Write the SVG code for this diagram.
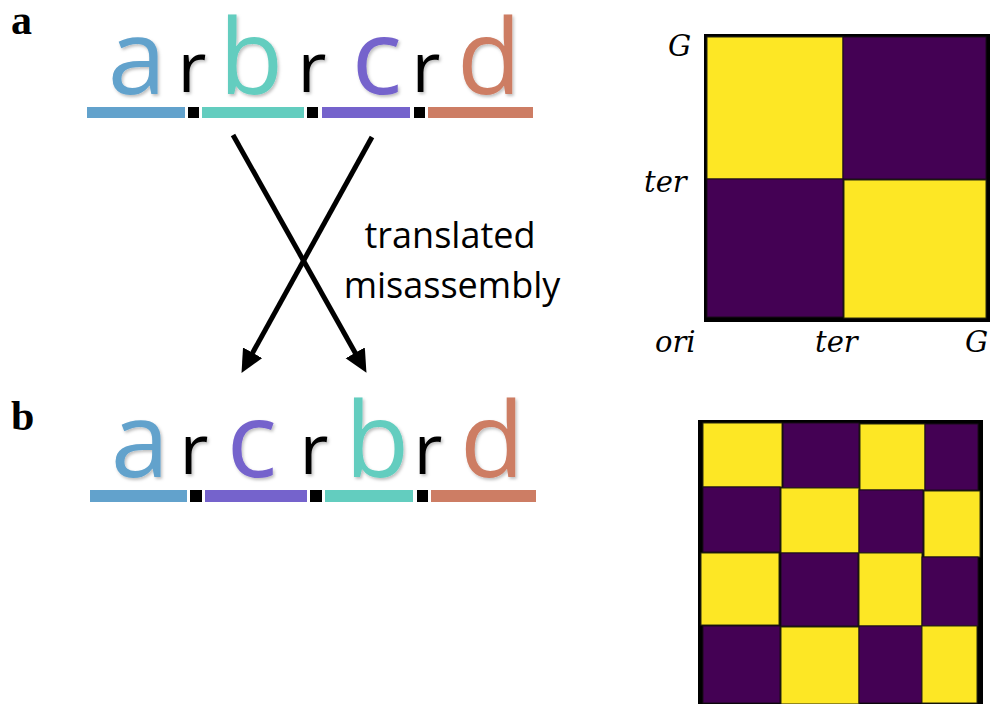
<svg xmlns="http://www.w3.org/2000/svg" width="995" height="704" viewBox="0 0 995 704">
<style>
.panel{font-family:"Liberation Serif",serif;font-weight:bold;font-size:42px;fill:#000}
.big{font-family:"Open Sans","Noto Sans",sans-serif;font-size:105px;text-anchor:middle;filter:url(#sh)}
.rr{font-family:"Open Sans","Noto Sans",sans-serif;font-size:70px;text-anchor:middle;fill:#000;filter:url(#sh)}
.lab{font-family:"Open Sans","Noto Sans",sans-serif;font-size:36px;fill:#000;text-anchor:middle}
.ax{font-family:"DejaVu Serif",serif;font-style:italic;font-size:29px;fill:#000}
.cA{fill:#62A2CC}.cB{fill:#63CDBF}.cC{fill:#7563CC}.cD{fill:#CD7D64}.k{fill:#000}
.Y{fill:#FDE725;stroke:#2a2a10;stroke-width:1}
.P{fill:#440154;stroke:#1a0a1a;stroke-width:1}
.arrow{stroke:#000;stroke-width:5;fill:none}
</style>
<defs>
<filter id="sh" x="-20%" y="-20%" width="150%" height="150%">
<feDropShadow dx="1.5" dy="2" stdDeviation="1.5" flood-color="#000" flood-opacity="0.25"/>
</filter>
<marker id="ah" markerUnits="userSpaceOnUse" markerWidth="24" markerHeight="24" refX="10" refY="11" orient="auto">
<path d="M0,0 L23,11 L0,22 z" fill="#000"/>
</marker>
</defs>
<rect width="995" height="704" fill="#fff"/>

<g id="label-a"><text class="panel" x="11" y="34">a</text></g>
<g id="label-b"><text class="panel" x="11" y="430">b</text></g>

<g id="seq-original">
<rect class="cA" x="87" y="107" width="98" height="11"/>
<rect class="k" x="188" y="107" width="11" height="11"/>
<rect class="cB" x="202" y="107" width="102" height="11"/>
<rect class="k" x="307" y="107" width="11" height="11"/>
<rect class="cC" x="322" y="107" width="88" height="11"/>
<rect class="k" x="414" y="107" width="11" height="11"/>
<rect class="cD" x="428" y="107" width="105" height="11"/>
<text class="big cA" x="137" y="94">a</text>
<text class="rr" x="192" y="92">r</text>
<text class="big cB" x="251" y="94">b</text>
<text class="rr" x="312" y="92">r</text>
<text class="big cC" x="377" y="94">c</text>
<text class="rr" x="426" y="92">r</text>
<text class="big cD" x="489" y="94">d</text>
</g>

<g id="seq-misassembled">
<rect class="cA" x="90" y="490" width="97" height="12"/>
<rect class="k" x="190" y="490" width="12" height="12"/>
<rect class="cC" x="205" y="490" width="102" height="12"/>
<rect class="k" x="310" y="490" width="12" height="12"/>
<rect class="cB" x="325" y="490" width="88" height="12"/>
<rect class="k" x="417" y="490" width="11" height="12"/>
<rect class="cD" x="431" y="490" width="105" height="12"/>
<text class="big cA" x="140" y="477">a</text>
<text class="rr" x="194" y="474">r</text>
<text class="big cC" x="252" y="477">c</text>
<text class="rr" x="314" y="474">r</text>
<text class="big cB" x="377" y="477">b</text>
<text class="rr" x="428" y="474">r</text>
<text class="big cD" x="492" y="477">d</text>
</g>

<g id="connectors">
<path class="arrow" d="M233,135 L360.1,361.5" marker-end="url(#ah)"/>
<path class="arrow" d="M372,137 L247.8,361.5" marker-end="url(#ah)"/>
</g>
<g id="connector-label">
<text class="lab" x="450" y="248">translated</text>
<text class="lab" x="452" y="298">misassembly</text>
</g>

<g id="heatmap-a">
<rect x="704" y="34" width="286" height="288" fill="#000"/>
<rect class="Y" x="707" y="37" width="136" height="142"/>
<rect class="P" x="843" y="37" width="143" height="142"/>
<rect class="P" x="707" y="179" width="136" height="138"/>
<rect class="Y" x="844" y="180" width="142" height="138"/>
<text class="ax" x="668" y="56">G</text>
<text class="ax" x="644" y="192">ter</text>
<text class="ax" x="655" y="352">ori</text>
<text class="ax" x="815" y="352">ter</text>
<text class="ax" x="965" y="352">G</text>
</g>

<g id="heatmap-b">
<rect x="698" y="420" width="285" height="284" fill="#000"/>
<rect class="Y" x="703" y="423" width="79" height="64"/>
<rect class="P" x="783" y="423" width="76" height="65"/>
<rect class="Y" x="860" y="424" width="65" height="66"/>
<rect class="P" x="925" y="424" width="53" height="66"/>
<rect class="P" x="703" y="487" width="77" height="65"/>
<rect class="Y" x="781" y="488" width="78" height="65"/>
<rect class="P" x="859" y="490" width="64" height="63"/>
<rect class="Y" x="924" y="491" width="56" height="66"/>
<rect class="Y" x="701" y="553" width="78" height="72"/>
<rect class="P" x="781" y="553" width="77" height="73"/>
<rect class="Y" x="859" y="553" width="63" height="73"/>
<rect class="P" x="922" y="557" width="56" height="69"/>
<rect class="P" x="703" y="626" width="77" height="77"/>
<rect class="Y" x="781" y="627" width="78" height="77"/>
<rect class="P" x="859" y="626" width="63" height="77"/>
<rect class="Y" x="922" y="626" width="55" height="77"/>
</g>
</svg>
